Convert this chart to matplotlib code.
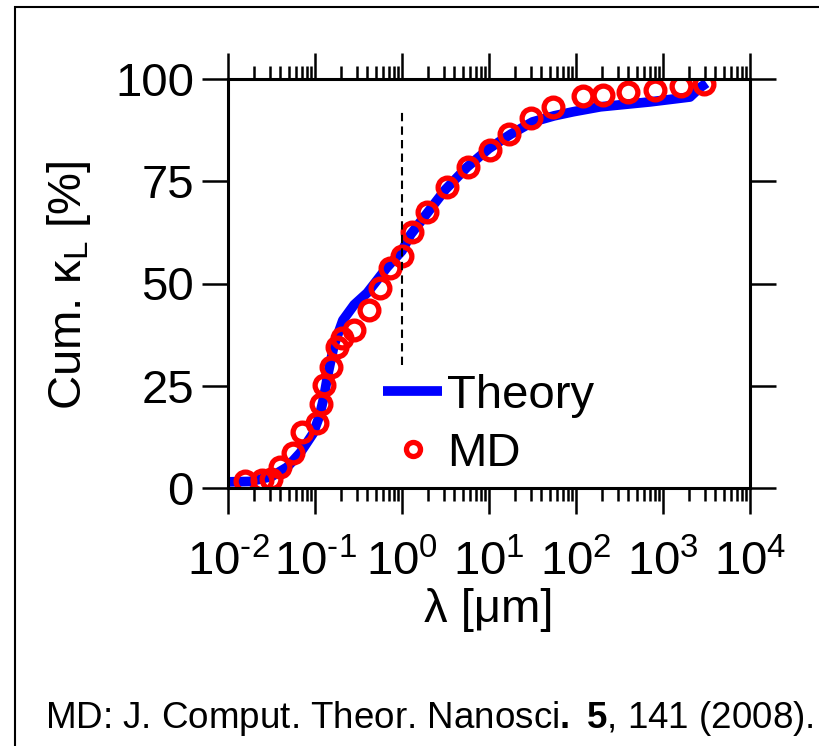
import matplotlib
matplotlib.use('Agg')
import matplotlib.pyplot as plt
import numpy as np
from matplotlib.ticker import LogLocator, NullFormatter, FixedLocator
from matplotlib.patches import Rectangle

plt.rcParams['font.family'] = ['Liberation Sans', 'DejaVu Sans']
plt.rcParams['mathtext.fontset'] = 'custom'
plt.rcParams['mathtext.rm'] = 'Liberation Sans'
plt.rcParams['mathtext.it'] = 'Liberation Sans:italic'
plt.rcParams['mathtext.bf'] = 'Liberation Sans:bold'

# theory curve (log10 of wavelength in um, cumulative %)
theory_logx = [-2.0, -1.75, -1.5, -1.32, -1.17, -1.02, -0.95, -0.9, -0.85,
               -0.78, -0.68, -0.55, -0.4, -0.17, 0.0, 0.1, 0.3, 0.5, 0.75,
               1.0, 1.25, 1.5, 1.75, 1.97, 2.28, 2.85, 3.31, 3.42, 3.5]
theory_y = [1.5, 1.6, 2.8, 5.1, 8.6, 13.4, 17.5, 22.0, 28.0,
            35.0, 41.0, 44.8, 47.7, 54.0, 58.0, 62.0, 67.5, 73.0, 78.5,
            83.0, 86.5, 89.5, 91.0, 92.0, 93.2, 94.4, 95.6, 97.8, 99.0]

# MD points
md_logx = [-1.805, -1.609, -1.506, -1.402, -1.253, -1.149, -0.977, -0.931,
           -0.897, -0.816, -0.747, -0.690, -0.552, -0.379, -0.253, -0.138,
           0.0, 0.115, 0.287, 0.517, 0.759, 1.011, 1.230, 1.483, 1.736,
           2.080, 2.310, 2.598, 2.908, 3.207, 3.471]
md_y = [1.7, 2.0, 2.2, 5.1, 8.6, 13.7, 15.9, 20.5, 25.2, 29.6, 34.5, 36.7,
        38.6, 43.5, 48.9, 53.8, 56.7, 62.6, 67.5, 73.6, 78.5, 82.6, 86.6,
        90.5, 93.2, 95.8, 96.1, 96.8, 97.3, 98.3, 98.8]

y_ticks = [0, 25, 50, 75, 100]
x_decades = [-2, -1, 0, 1, 2, 3, 4]

fig = plt.figure(figsize=(8.2, 7.46), dpi=100)
fig.patches.append(Rectangle((15 / 820, -0.1), 1.2, 1.1 - 7 / 746,
                             transform=fig.transFigure, fill=False,
                             edgecolor='black', linewidth=1.5))
ax = fig.add_axes([228 / 820, 258 / 746, 522 / 820, 409 / 746])

ax.plot(10.0 ** np.array(theory_logx), theory_y, color='#0000ff', lw=7,
        solid_capstyle='butt', label='Theory')
ax.plot(10.0 ** np.array(md_logx), md_y, 'o', ms=13.5, mfc='none',
        mec='#ff0000', mew=3.8, label='MD')
ax.plot([1, 1], [30, 92], color='black', lw=1.5, ls=(0, (4, 2.5)))

ax.set_xscale('log')
ax.set_xlim(1e-2, 1e4)
ax.set_ylim(0, 100)
ax.xaxis.set_major_locator(FixedLocator([10.0 ** d for d in x_decades]))
ax.xaxis.set_minor_locator(LogLocator(base=10, subs=np.arange(2, 10), numticks=20))
ax.xaxis.set_minor_formatter(NullFormatter())
ax.set_xticklabels(['10$^{\\text{%d}}$' % d for d in x_decades])
ax.set_yticks(y_ticks)

for s in ax.spines.values():
    s.set_linewidth(2.2)
ax.tick_params(which='both', direction='out', top=True, right=True,
               width=1.8, labelsize=34)
ax.tick_params(which='major', length=18.5)
ax.tick_params(which='minor', length=9.5)
ax.tick_params(axis='y', pad=6)
ax.tick_params(axis='x', pad=19)

ax.text(0.5, -0.245, 'λ [μm]', transform=ax.transAxes, ha='center',
        va='top', fontsize=34)
ax.text(-0.305, 0.497, 'Cum. κ$_{\\mathrm{L}}$ [%]', transform=ax.transAxes,
        ha='center', va='center', rotation=90, fontsize=34)

leg = ax.legend(loc='upper left', bbox_to_anchor=(0.252, 0.337), frameon=False,
                fontsize=34, handlelength=1.25, handletextpad=0.1,
                labelspacing=0.3, borderpad=0, markerscale=0.75)
leg.get_lines()[0].set_linewidth(7)

fig.text(0.524, 28 / 746, 'MD: J. Comput. Theor. Nanosci$\\mathbf{.}$ $\\mathbf{5}$, 141 (2008).',
         ha='center', va='center', fontsize=26.5)

fig.savefig('out.png', dpi=100)
